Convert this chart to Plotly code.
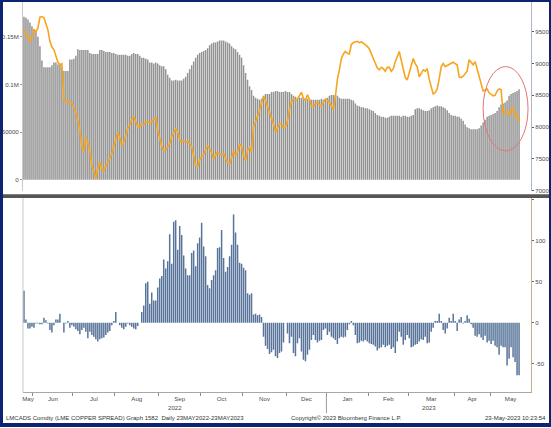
import numpy as np
import pandas as pd
import plotly.graph_objects as go

# ---------------- data ----------------
# grey bars, left axis (thousands of tonnes)
stocks_k = [
    171,170,168,165,161,158,157,150,140,125,
    118,118,118,118,120,123,123,121,121,118,
    114,114,114,126,126,127,130,137,136,136,
    136,136,136,133,132,132,132,132,136,136,
    135,134,134,134,133,133,132,131,131,131,
    131,131,130,130,132,133,132,132,130,128,
    128,127,126,123,123,122,123,122,120,119,
    119,116,110,107,104,104,105,104,104,104,
    106,108,112,116,120,124,128,131,133,134,
    135,136,138,141,143,144,144,145,146,146,
    146,145,144,143,140,138,137,134,131,128,
    120,112,105,98,94,88,86,85,84,85,
    88,90,90,90,92,92,93,93,92,92,
    92,93,92,92,90,88,87,86,86,86,
    86,85,85,84,84,84,84,84,84,85,
    84,85,86,88,89,89,89,88,86,85,
    85,85,85,85,84,83,80,78,77,76,
    76,75,75,74,73,72,70,68,67,66,
    66,65,65,66,67,67,67,67,67,66,
    67,67,66,66,67,68,74,75,75,74,
    73,72,72,73,75,76,77,78,77,77,
    76,75,73,70,68,67,67,66,66,64,
    62,58,55,54,53,53,53,53,54,57,
    60,63,66,67,68,69,70,72,76,79,
    80,81,83,88,90,91,92,93,95,
]

# orange line, right axis (USD/t)
price = [
    9530,9470,9410,9340,9420,9530,9500,9560,9730,9740,
    9720,9640,9530,9350,9260,9220,9110,9020,8980,9000,
    8420,8390,8400,8390,8380,8300,8230,8100,7950,7700,
    7610,7840,7760,7620,7400,7300,7190,7350,7450,7330,
    7310,7390,7440,7510,7580,7700,7820,7920,7830,7710,
    7760,7880,7980,8030,8120,8170,8080,8000,8010,8050,
    8040,8080,8090,8060,8080,8120,8160,7950,7810,7700,
    7630,7650,7690,7740,7850,7900,7970,7930,7800,7770,
    7780,7760,7780,7740,7700,7550,7400,7380,7480,7540,
    7560,7650,7700,7660,7600,7500,7560,7610,7580,7570,
    7580,7500,7440,7420,7530,7620,7560,7600,7740,7700,
    7550,7470,7640,7680,7610,8010,8080,8160,8260,8380,
    8480,8420,8330,8250,8150,8050,7920,7990,8050,8040,
    7990,8000,8100,8280,8400,8440,8420,8440,8500,8550,
    8450,8420,8510,8440,8330,8320,8370,8390,8350,8330,
    8390,8440,8420,8390,8330,8280,8480,8750,8900,9080,
    9150,9190,9160,9150,9300,9330,9340,9350,9330,9340,
    9320,9300,9270,9230,9150,9060,9000,8930,8900,8940,
    8920,8880,8940,8940,8880,8920,9030,9120,9190,9050,
    8910,8780,8740,8870,9000,9080,9000,8950,8790,8850,
    8900,8880,8920,8750,8650,8520,8540,8600,8760,8950,
    9000,8950,8970,8990,9000,9020,9000,8980,8790,8780,
    8800,8840,8880,9060,9010,8980,9030,8920,8800,8680,
    8570,8580,8600,8540,8510,8490,8500,8570,8600,8590,
    8210,8240,8250,8180,8280,8310,8160,8200,8080,
]

# lower panel: LME copper spread (USD/t)
spread = [
    39,4,-7,-7,-5,-6,-1,-1,-2,-2,6,3,-1,-9,-12,-3,4,4,11,0,
    -12,-1,2,-6,-3,-5,-8,-10,-14,-9,-6,-11,-19,-11,-15,-17,-20,-23,-20,-19,-18,-15,-12,-10,-3,2,
    13,0,-3,-6,-8,-5,-1,-3,-5,-7,-8,-4,0,
    13,21,48,50,23,37,27,27,43,54,57,77,66,75,108,72,123,125,89,118,107,82,66,58,58,85,88,69,97,104,
    122,93,81,46,42,52,58,64,91,92,113,79,62,68,81,95,132,110,95,73,72,67,64,36,34,36,10,11,9,10,7,-17,
    -28,-32,-38,-36,-33,-41,-43,-37,-35,-24,0,-13,-25,-17,-37,-41,-25,-19,-35,-45,
    -47,-39,-33,-21,-15,-21,-24,-22,-21,-9,-7,-15,-11,-17,-19,-21,-26,-19,-17,-18,
    -17,-9,-2,2,-3,-15,-25,-24,-22,-23,-21,-23,-25,-26,-27,-29,-34,-31,-30,-27,
    -30,-28,-27,-32,-30,-37,-23,-11,-17,-27,-21,-15,-19,-30,-29,-27,-26,-23,-20,-21,
    -17,-25,-24,-11,-6,2,2,11,2,-9,-13,-7,
    6,2,11,2,-10,4,7,-1,2,9,5,-2,-6,-16,-17,-14,-18,-21,-16,-24,-22,-26,-22,-28,-30,-39,-28,-30,-30,-52,
    -44,-30,-42,-48,-64,-64,
]

left_tickvals = [0, 50000, 100000, 150000]
left_ticktext = ["0", "50000", "0.1M", "0.15M"]
right_tickvals = [7000, 7500, 8000, 8500, 9000, 9500, 10000]
right_ticktext = ["7000", "7500", "8000", "8500", "9000", "9500", ""]
spread_tickvals = [-50, 0, 50, 100, 150]
spread_ticktext = ["-50", "0", "50", "100", ""]
month_labels = ["May", "Jun", "Jul", "Aug", "Sep", "Oct", "Nov", "Dec",
                "Jan", "Feb", "Mar", "Apr", "May"]
year_labels = ["2022", "2023"]
lme_holidays = ["2022-06-02", "2022-06-03", "2022-08-29", "2022-09-19", "2022-12-26",
                "2022-12-27", "2023-01-02", "2023-04-07", "2023-04-10", "2023-05-01",
                "2023-05-08"]

# ---------------- x positions (trading days) ----------------
N = len(spread)
days = pd.bdate_range("2022-05-23", "2023-05-23")
days = days[~days.isin(pd.to_datetime(lme_holidays))]
dates = days[-N:]
x = np.arange(N)

W, H = 551, 428
PLOT_L, PLOT_R = 22, 531
XMIN = -0.5
XMAX = XMIN + (PLOT_R - PLOT_L) / 2.0   # about two pixels per trading day

bounds = [k - 0.5 for k in range(1, N) if dates[k].month != dates[k - 1].month]
edges = [XMIN] + bounds + [XMAX]
month_centers = [(edges[k] + edges[k + 1]) / 2 for k in range(len(edges) - 1)]
year_bound = [k - 0.5 for k in range(1, N) if dates[k].year != dates[k - 1].year][0]
year_centers = [(XMIN + year_bound) / 2, (year_bound + XMAX) / 2]

def px(xp):
    return xp / W
def py(yp):
    return 1 - yp / H

def stems(xs, ys):
    """vertical bar stems from zero to each value (None-separated segments)"""
    sx, sy = [], []
    for a, b in zip(xs, ys):
        sx += [a, a, None]
        sy += [0, b, None]
    return sx, sy

FONT = "Liberation Sans, Arial, sans-serif"
TXT = "#4a4a4a"
FS = 6.1

sx, sy = stems(x, [v * 1000 for v in stocks_k])
fig = go.Figure()
fig.add_trace(go.Scatter(x=sx, y=sy, mode="lines", line=dict(color="#939393", width=1.5),
                         xaxis="x", yaxis="y", showlegend=False, hoverinfo="skip"))
fig.add_trace(go.Scatter(x=x, y=price, mode="lines",
                         line=dict(color="#f6a51c", width=1.6),
                         xaxis="x", yaxis="y2", showlegend=False))
bx, by = stems(x, spread)
fig.add_trace(go.Scatter(x=bx, y=by, mode="lines", line=dict(color="#58749a", width=1.5),
                         xaxis="x2", yaxis="y3", showlegend=False, hoverinfo="skip"))

xdom = [px(PLOT_L), px(PLOT_R)]
top_dom = [py(192), py(0)]
bot_dom = [py(395), py(199)]

# ranges derived from the observed axis geometry
left_per_px = 50000 / 48.0
left_rng = [-(192 - 181) * left_per_px, 181 * left_per_px]
spread_per_px = 50 / 41.3
spread_rng = [-(395 - 325) * spread_per_px, (325 - 199) * spread_per_px]

fig.update_layout(
    width=W, height=H,
    margin=dict(l=0, r=0, t=0, b=0),
    paper_bgcolor="white", plot_bgcolor="white",
    font=dict(family=FONT, size=FS, color=TXT),
    xaxis=dict(domain=xdom, anchor="y", range=[XMIN, XMAX], showticklabels=False,
               showgrid=False, zeroline=False, showline=False, ticks=""),
    yaxis=dict(domain=top_dom, anchor="x", range=left_rng, side="left",
               tickvals=left_tickvals, ticktext=left_ticktext,
               showgrid=False, zeroline=False, showline=True, linecolor="#c9c9c9",
               linewidth=1, ticks="outside", ticklen=2, tickcolor="#9a9a9a",
               tickfont=dict(size=FS, color=TXT, family=FONT)),
    yaxis2=dict(overlaying="y", anchor="x", side="right", range=[7000, 10000],
                tickvals=right_tickvals, ticktext=right_ticktext,
                showgrid=False, zeroline=False, showline=True, linecolor="#a9b7c6",
                linewidth=1, ticks="outside", ticklen=2, tickcolor="#4b5d7a",
                tickfont=dict(size=FS, color=TXT, family=FONT)),
    xaxis2=dict(domain=xdom, anchor="y3", range=[XMIN, XMAX],
                tickmode="array", tickvals=month_centers, ticktext=month_labels,
                ticks="", showgrid=False, zeroline=False,
                showline=True, linecolor="#a8a8a8", linewidth=1,
                tickfont=dict(size=FS, color=TXT, family=FONT),
                minor=dict(tickmode="array", tickvals=bounds, ticks="outside",
                           ticklen=3, tickcolor="#8a8a8a", showgrid=False)),
    yaxis3=dict(domain=bot_dom, anchor="x2", side="right", range=spread_rng,
                tickvals=spread_tickvals, ticktext=spread_ticktext,
                showgrid=False, zeroline=False, showline=True, linecolor="#c9ad8f",
                linewidth=1, ticks="outside", ticklen=2, tickcolor="#7a6248",
                tickfont=dict(size=FS, color=TXT, family=FONT)),
)

shapes = []
# left axis line of lower panel
shapes.append(dict(type="line", xref="paper", yref="paper", x0=px(PLOT_L), x1=px(PLOT_L),
                   y0=py(395), y1=py(199), line=dict(color="#c9c9c9", width=1)))
# panel separator bar
shapes.append(dict(type="rect", xref="paper", yref="paper", x0=0, x1=1,
                   y0=py(199.5), y1=py(195.5), fillcolor="#565656", line=dict(width=0)))
# year divider below the axis
shapes.append(dict(type="line", xref="x2", yref="paper", x0=year_bound, x1=year_bound,
                   y0=py(416), y1=py(396), line=dict(color="#9a9a9a", width=1)))
# red highlight ellipse around the latest weeks
hl_start = N - 19
shapes.append(dict(type="circle", xref="x", yref="y2", x0=hl_start, x1=N + 3.5,
                   y0=7625, y1=8953, line=dict(color="#e57373", width=1)))
# navy frame
shapes.append(dict(type="rect", xref="paper", yref="paper", x0=0, x1=1, y0=0, y1=1,
                   line=dict(color="#0d2470", width=4), fillcolor="rgba(0,0,0,0)"))
fig.update_layout(shapes=shapes)

ann = []
for lbl, xc in zip(year_labels, year_centers):
    ann.append(dict(text=lbl, x=xc, y=py(410), xref="x2", yref="paper", yanchor="middle",
                    showarrow=False, font=dict(size=FS, color=TXT, family=FONT)))
ann.append(dict(text="LMCADS Comdty (LME COPPER SPREAD) Graph 1582  Daily 23MAY2022-23MAY2023",
                x=px(3), y=py(421), xref="paper", yref="paper", xanchor="left", yanchor="middle",
                showarrow=False, font=dict(size=6.0, color="#333", family=FONT)))
ann.append(dict(text="Copyright© 2023 Bloomberg Finance L.P.",
                x=px(346), y=py(421), xref="paper", yref="paper", xanchor="center",
                yanchor="middle",
                showarrow=False, font=dict(size=6.0, color="#333", family=FONT)))
ann.append(dict(text="23-May-2023 10:23:54",
                x=px(548), y=py(421), xref="paper", yref="paper", xanchor="right",
                yanchor="middle",
                showarrow=False, font=dict(size=6.0, color="#333", family=FONT)))
fig.update_layout(annotations=ann)

fig.write_html("out.html", config={"displayModeBar": False},
               post_script="document.body.style.margin='0px';document.body.style.overflow='hidden';")
